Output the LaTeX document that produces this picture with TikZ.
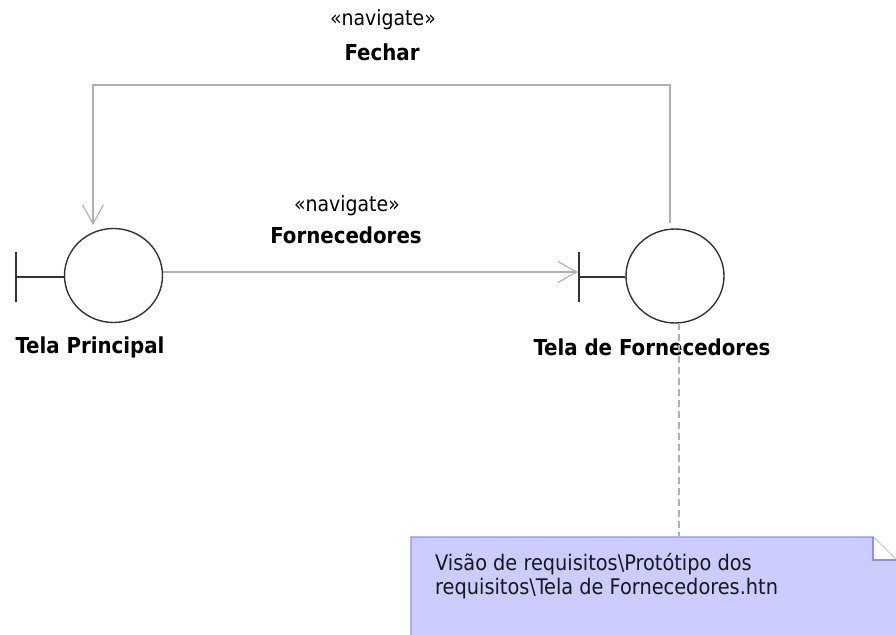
\documentclass[tikz,border=0pt]{standalone}
\usepackage{fontspec}
\setmainfont{DejaVu Sans Condensed}
\usetikzlibrary{arrows.meta,shapes.geometric}
\definecolor{notefill}{HTML}{CCCCFF}
\definecolor{noteline}{HTML}{8C8CFF}
\definecolor{conn}{HTML}{B0B0B0}
\definecolor{sym}{HTML}{333333}
\tikzset{
  bcircle/.style={draw=sym,line width=1.4pt,ellipse,minimum width=98pt,minimum height=94pt,inner sep=0pt},
  bbar/.style={draw=sym,line width=1.4pt},
  navline/.style={draw=conn,line width=1.1pt},
  navarrow/.style={navline,-{Straight Barb[length=19pt,width=21pt,line width=1.1pt]}},
  tracelink/.style={draw=conn,line width=1.1pt,dash pattern=on 7pt off 4pt},
  elabel/.style={font=\fontsize{22}{24}\selectfont\bfseries,inner sep=0pt},
  stereo/.style={font=\fontsize{21}{24}\selectfont,inner sep=0pt},
  cname/.style={font=\fontsize{22}{24}\selectfont\bfseries,inner sep=0pt},
  notetext/.style={font=\fontsize{21.5}{24}\selectfont,text=black!90,align=left,inner sep=0pt,anchor=north west}
}
\begin{document}
\begin{tikzpicture}[x=1pt,y=-1pt]
\useasboundingbox (0,0) rectangle (896,634);
\begin{scope}
\clip (0,0) rectangle (896,634);
% note
\path[fill=notefill] (411,537) -- (873,537) -- (896,560) -- (896,650) -- (411,650) -- cycle;
\draw[noteline,line width=1.4pt] (411,650) -- (411,537) -- (873,537) -- (896,560);
\fill[white] (873,537) -- (896,560) -- (873,560) -- cycle;
\draw[noteline,line width=1.4pt] (873,537) -- (873,560) -- (896,560);
\end{scope}
\node[notetext] (note) at (435,553) {Visão de requisitos\textbackslash Protótipo dos\\requisitos\textbackslash Tela de Fornecedores.htn};
\coordinate (notetop) at (679,537);

% boundary: Tela Principal
\node[bcircle] (tp) at (113.5,275.5) {};
\coordinate (tpbarT) at (16,252);
\coordinate (tpbarB) at (16,302);
\coordinate (tpbarM) at (16,277);
\draw[bbar] (tpbarT) -- (tpbarB);
\draw[bbar] (tpbarM) -- (tp.west |- tpbarM);
\node[cname] (tplabel) at (90,347) {Tela Principal};

% boundary: Tela de Fornecedores
\node[bcircle] (tf) at (675,276) {};
\coordinate (tfbarT) at (579,252);
\coordinate (tfbarB) at (579,302);
\coordinate (tfbarM) at (579,277);
\draw[bbar] (tfbarT) -- (tfbarB);
\draw[bbar] (tfbarM) -- (tf.west |- tfbarM);
\node[cname] (tflabel) at (652,347) {Tela de Fornecedores};

% navigate Fornecedores
\coordinate (fstart) at (163,272);
\coordinate (fend) at (578,272);
\draw[navarrow] (fstart) -- (fend);
\node[stereo] (st1) at (347,206) {«navigate»};
\node[elabel] (lb1) at (346,235) {Fornecedores};

% navigate Fechar
\coordinate (cstart) at (670,223);
\coordinate (cend) at (93,225);
\draw[navarrow] (cstart) -- (670,85) -- (93,85) -- (cend);
\node[stereo] (st2) at (383,20) {«navigate»};
\node[elabel] (lb2) at (382,52) {Fechar};

% trace to note
\coordinate (tfbottom) at (679,323);
\draw[tracelink] (tfbottom) -- (notetop);
\end{tikzpicture}
\end{document}
